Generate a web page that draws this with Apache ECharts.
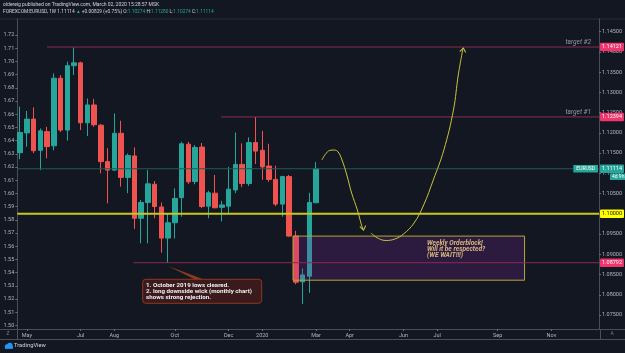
<!DOCTYPE html>
<html><head><meta charset="utf-8">
<script src="https://cdn.jsdelivr.net/npm/echarts@6/dist/echarts.min.js"></script>
<style>html,body{margin:0;padding:0;background:#131722;}#c{width:625px;height:353px;}</style>
</head><body><div id="c"></div>
<script>
// ---------- DATA ----------
const weeks = ['2019-04-29','2019-05-06','2019-05-13','2019-05-20','2019-05-27','2019-06-03','2019-06-10','2019-06-17','2019-06-24','2019-07-01','2019-07-08','2019-07-15','2019-07-22','2019-07-29','2019-08-05','2019-08-12','2019-08-19','2019-08-26','2019-09-02','2019-09-09','2019-09-16','2019-09-23','2019-09-30','2019-10-07','2019-10-14','2019-10-21','2019-10-28','2019-11-04','2019-11-11','2019-11-18','2019-11-25','2019-12-02','2019-12-09','2019-12-16','2019-12-23','2019-12-30','2020-01-06','2020-01-13','2020-01-20','2020-01-27','2020-02-03','2020-02-10','2020-02-17','2020-02-24','2020-03-02'];
const opens  = [1.1151,1.1200,1.1234,1.1157,1.1203,1.1168,1.1335,1.1207,1.1366,1.1373,1.1225,1.1269,1.1219,1.1129,1.1108,1.1199,1.1090,1.1143,1.0989,1.1028,1.1073,1.1017,1.0940,1.0978,1.1040,1.1172,1.1080,1.1165,1.1019,1.1051,1.1016,1.1019,1.1059,1.1122,1.1075,1.1176,1.1157,1.1118,1.1085,1.1024,1.1092,1.0945,1.0832,1.0846,1.10274];
const closes = [1.1201,1.1234,1.1156,1.1205,1.1166,1.1335,1.1207,1.1366,1.1373,1.1225,1.1269,1.1220,1.1129,1.1108,1.1199,1.1090,1.1144,1.0989,1.1028,1.1074,1.1018,1.0940,1.0978,1.1038,1.1173,1.1079,1.1164,1.1018,1.1052,1.1015,1.1022,1.1061,1.1122,1.1075,1.1176,1.1155,1.1116,1.1085,1.1024,1.1092,1.0945,1.0831,1.0849,1.1028,1.11114];
const lows   = [1.1135,1.1166,1.1150,1.1108,1.1137,1.1157,1.1202,1.1181,1.1343,1.1207,1.1192,1.1215,1.1100,1.1026,1.1106,1.1067,1.1051,1.0963,1.0927,1.0927,1.0989,1.0904,1.0879,1.0939,1.0993,1.1074,1.1073,1.1014,1.0989,1.1014,1.0981,1.1001,1.1051,1.1066,1.1069,1.1123,1.1084,1.1079,1.1019,1.0993,1.0943,1.0826,1.0777,1.0805,1.10274];
const highs  = [1.1265,1.1254,1.1263,1.1211,1.1215,1.1347,1.1343,1.1376,1.1411,1.1376,1.1285,1.1284,1.1222,1.1162,1.1248,1.1230,1.1149,1.1164,1.1034,1.1108,1.1081,1.1028,1.1001,1.1063,1.1178,1.1178,1.1170,1.1175,1.1057,1.1096,1.1032,1.1116,1.1201,1.1174,1.1189,1.1239,1.1205,1.1173,1.1119,1.1094,1.1096,1.0958,1.0865,1.1052,1.11280];

const priceTicks = [1.075,1.080,1.085,1.090,1.095,1.100,1.105,1.110,1.115,1.120,1.125,1.130,1.135,1.140,1.145];
const leftTicks  = [1.50,1.51,1.52,1.53,1.54,1.55,1.56,1.57,1.58,1.59,1.60,1.61,1.62,1.63,1.64,1.65,1.66,1.67,1.68,1.69,1.70,1.71,1.72];
const monthTickDates  = ['2019-05-06','2019-07-01','2019-08-05','2019-10-07','2019-12-02','2020-01-06','2020-03-02','2020-04-06','2020-06-01','2020-07-06','2020-09-07','2020-11-02'];
const monthTickLabels = ['May','Jul','Aug','Oct','Dec','2020','Mar','Apr','Jun','Jul','Sep','Nov'];

// horizontal levels: [name, price, start date, kind]
const levelNames  = ['last', 'target2', 'target1', 'psych', 'octLow'];
const levelPrices = [1.11114, 1.14121, 1.12394, 1.10000, 1.08792];
const levelFrom   = ['2019-04-26', '2019-05-27', '2019-11-24', '2019-04-26', '2019-08-25'];
const levelNotes  = ['', 'target #2', 'target #1', '', ''];
// order block box
const obFrom = '2020-02-07', obTo = '2020-10-05', obTop = 1.0945, obBottom = 1.0836;
// drawn projection paths [date, price]
const path1 = [['2020-03-08',1.1133],['2020-03-12',1.1148],['2020-03-16',1.11565],['2020-03-21',1.11577],['2020-03-25',1.11527],['2020-03-29',1.1133],['2020-04-03',1.10959],['2020-04-08',1.10514],['2020-04-14',1.10094],['2020-04-18',1.09748],['2020-04-20',1.0960]];
const path2 = [['2020-04-28',1.09526],['2020-05-06',1.0939],['2020-05-14',1.09341],['2020-05-23',1.09378],['2020-06-01',1.09501],['2020-06-12',1.09773],['2020-06-22',1.10218],['2020-07-02',1.10836],['2020-07-13',1.11577],['2020-07-23',1.12565],['2020-07-28',1.1343],['2020-08-02',1.14097]];

// ---------- LAYOUT ----------
const ts = s => { const [y,m,d] = s.split('-').map(Number); return Date.UTC(y, m-1, d); };
const xMin = ts('2019-04-26');
const xMax = ts('2020-12-21') + 12*3600e3;
const priceMin = 1.07154, priceMax = 1.14814;
const leftMin = 1.497273, leftMax = 1.732121;
const FONT = 'Roboto, "Noto Sans", sans-serif';
const UP = '#26a69a', DOWN = '#ef5350';
const PATH_COL = '#c8c43a';
const levelStyle = {
  last:    {line: '#1f5a55', width: 1, tag: UP, fg: '#ffffff'},
  target2: {line: '#8c2b50', width: 1, tag: '#f0346c', fg: '#ffffff'},
  target1: {line: '#8c2b50', width: 1, tag: '#f0346c', fg: '#ffffff'},
  psych:   {line: '#c9c71f', width: 2, tag: '#ffff00', fg: '#131722'},
  octLow:  {line: '#8c2b50', width: 1, tag: '#f0346c', fg: '#ffffff'}
};

const candleData = weeks.map((w,i) => [ts(w), opens[i], closes[i], lows[i], highs[i]]);
const monthTs = monthTickDates.map(ts);
const lastIdx = levelNames.indexOf('last');

const levelSeries = levelNames.map((n, i) => {
  const st = levelStyle[n];
  const s = {
    type: 'line', name: n, yAxisIndex: 0, z: 4, silent: true, showSymbol: false, clip: false,
    data: [[ts(levelFrom[i]), levelPrices[i]], [xMax, levelPrices[i]]],
    lineStyle: {color: st.line, width: st.width},
    endLabel: {show: true, distance: 1, formatter: levelPrices[i].toFixed(5), color: st.fg, backgroundColor: st.tag,
      fontSize: 5.5, fontFamily: FONT, padding: [1.5,2,1,2], borderRadius: 1}
  };
  const mp = [];
  if (levelNotes[i]) {
    mp.push({coord: [xMax, levelPrices[i]], symbolSize: 0, label: {show: true, position: 'left', offset: [-3, -5],
      formatter: levelNotes[i], color: '#9598a1', fontSize: 6.5, fontStyle: 'italic', fontFamily: FONT}});
  }
  if (i === lastIdx) {
    mp.push({coord: [xMax, levelPrices[i]], symbolSize: 0, label: {show: true, position: 'left', distance: 1, formatter: 'EURUSD',
      color: '#fff', backgroundColor: UP, fontSize: 5, padding: [1.5,3,1,3], fontFamily: FONT}});
    mp.push({coord: [xMax, levelPrices[i]], symbolSize: 0, label: {show: true, position: 'right', offset: [6, 8], formatter: '4d 9h',
      color: '#fff', backgroundColor: UP, fontSize: 5, padding: [1,2,0.5,2], fontFamily: FONT}});
  }
  if (mp.length) s.markPoint = {silent: true, data: mp};
  return s;
});

const chevron = 'path://M0,6 L4,0 L8,6';

const chart = echarts.init(document.getElementById('c'), null, {renderer:'canvas'});
chart.setOption({
  backgroundColor: '#131722',
  animation: false,
  textStyle: {fontFamily: FONT},
  grid: {left: 17.3, right: 24.3, top: 19, bottom: 24, containLabel: false},
  xAxis: {
    type: 'value', min: xMin, max: xMax,
    axisLine: {show: true, lineStyle: {color: '#4a4e59', width: 1}},
    axisTick: {show: true, length: 2, customValues: monthTs, lineStyle: {color: '#6a6d78'}},
    axisLabel: {show: true, customValues: monthTs, color: '#b2b5be', fontSize: 5.5, margin: 4,
      formatter: v => { const i = monthTs.indexOf(v); return i >= 0 ? monthTickLabels[i] : ''; }},
    splitLine: {show: false}
  },
  yAxis: [
    {type: 'value', position: 'right', min: priceMin, max: priceMax, scale: true,
      axisLine: {show: true, lineStyle: {color: '#4a4e59'}},
      axisTick: {show: true, length: 2, customValues: priceTicks, lineStyle: {color: '#6a6d78'}},
      axisLabel: {customValues: priceTicks, color: '#b2b5be', fontSize: 5.5, margin: 3,
        formatter: v => v.toFixed(5)},
      splitLine: {show: false}},
    {type: 'value', position: 'left', min: leftMin, max: leftMax, scale: true,
      axisLine: {show: true, lineStyle: {color: '#4a4e59'}},
      axisTick: {show: true, length: 2, customValues: leftTicks, lineStyle: {color: '#6a6d78'}},
      axisLabel: {customValues: leftTicks, color: '#b2b5be', fontSize: 5.5, margin: 3,
        formatter: v => v.toFixed(2)},
      splitLine: {show: false}}
  ],
  series: [
    {
      type: 'candlestick', name: 'EURUSD', yAxisIndex: 0, z: 2,
      data: candleData,
      dimensions: ['t','open','close','low','high'],
      encode: {x: 't', y: ['open','close','low','high']},
      barWidth: 5,
      itemStyle: {color: UP, color0: DOWN, borderColor: UP, borderColor0: DOWN, borderWidth: 1},
      markArea: {
        silent: true, z: 3,
        itemStyle: {color: 'rgba(150,40,180,0.2)', borderColor: '#b3a83a', borderWidth: 1},
        data: [[{coord: [ts(obFrom), obTop]}, {coord: [ts(obTo), obBottom]}]]
      }
    },
    ...levelSeries,
    {
      type: 'line', name: 'path1', yAxisIndex: 0, z: 6, smooth: 0.4, showSymbol: false, silent: true,
      data: path1.map(p => [ts(p[0]), p[1]]),
      lineStyle: {color: PATH_COL, width: 1},
      markPoint: {silent: true, data: [{coord: [ts(path1[path1.length-1][0]), path1[path1.length-1][1]], symbol: chevron, symbolSize: [6,4], symbolRotate: 190, symbolOffset: [0, -2],
        itemStyle: {color: 'transparent', borderColor: PATH_COL, borderWidth: 1}, label: {show: false}}]}
    },
    {
      type: 'line', name: 'path2', yAxisIndex: 0, z: 6, smooth: 0.4, showSymbol: false, silent: true,
      data: path2.map(p => [ts(p[0]), p[1]]),
      lineStyle: {color: PATH_COL, width: 1},
      markPoint: {silent: true, data: [{coord: [ts(path2[path2.length-1][0]), path2[path2.length-1][1]], symbol: chevron, symbolSize: [6,4], symbolRotate: -10, symbolOffset: [0, 2],
        itemStyle: {color: 'transparent', borderColor: PATH_COL, borderWidth: 1}, label: {show: false}}]}
    }
  ],
  graphic: [
    {type: 'text', left: 3, top: 2, style: {text: 'oldereig published on TradingView.com, March 02, 2020 15:28:57 MSK', fill: '#d1d4dc', font: '5px ' + FONT}},
    {type: 'text', left: 3, top: 9, style: {
      text: '{w|FOREXCOM:EURUSD, 1W 1.11114 }{g|▲}{w| +0.00829 (+0.75%) O:}{g|1.10274}{w| H:}{g|1.11280}{w| L:}{g|1.10274}{w| C:}{g|1.11114}',
      rich: {w: {fill: '#d1d4dc', font: '4.8px ' + FONT}, g: {fill: UP, font: '4.8px ' + FONT}}}},
    {type: 'line', shape: {x1: 0, y1: 19, x2: 625, y2: 19}, style: {stroke: '#2a2e39', lineWidth: 1}},
    {type: 'line', shape: {x1: 0, y1: 329.5, x2: 625, y2: 329.5}, style: {stroke: '#4a4e59', lineWidth: 1}},
    {type: 'line', shape: {x1: 0, y1: 339.5, x2: 625, y2: 339.5}, style: {stroke: '#4a4e59', lineWidth: 1}},
    {type: 'line', shape: {x1: 17.5, y1: 329, x2: 17.5, y2: 340}, style: {stroke: '#4a4e59', lineWidth: 1}},
    {type: 'line', shape: {x1: 600.5, y1: 329, x2: 600.5, y2: 340}, style: {stroke: '#4a4e59', lineWidth: 1}},
    {type: 'text', left: 6.5, top: 331.5, style: {text: 'Z', fill: '#787b86', font: '5px ' + FONT}},
    {type: 'text', left: 610.5, top: 331.5, style: {text: 'A', fill: '#787b86', font: '5px ' + FONT}},
    {type: 'polygon', shape: {points: [[168, 266], [195, 279.5], [204, 279.5]]}, style: {fill: '#8c3a1c'}},
    {type: 'rect', shape: {x: 142.7, y: 279.3, width: 119, height: 24, r: 3}, style: {fill: '#3a1a1c', stroke: '#8c3a1c', lineWidth: 1}},
    {type: 'text', left: 146, top: 282, style: {text: '1. October 2019 lows cleared.\n2. long downside wick (monthly chart)\nshows strong rejection.', fill: '#f0f0f0', font: 'bold 6.2px ' + FONT, lineHeight: 6}},
    {type: 'text', left: 427, top: 239.5, style: {text: 'Weekly Orderblock!\nWill it be respected?\n(WE WAIT!!!)', fill: '#e6da72', font: 'italic bold 6.6px ' + FONT, lineHeight: 6.3}},
    {type: 'circle', shape: {cx: 7, cy: 346.5, r: 2.2}, style: {fill: '#2196f3'}},
    {type: 'circle', shape: {cx: 9.8, cy: 345.6, r: 2.8}, style: {fill: '#2196f3'}},
    {type: 'rect', shape: {x: 5, y: 346, width: 8, height: 2.8}, style: {fill: '#2196f3'}},
    {type: 'text', left: 14, top: 343, style: {text: 'TradingView', fill: '#d1d4dc', font: '5.8px ' + FONT}}
  ]
});
</script></body></html>
